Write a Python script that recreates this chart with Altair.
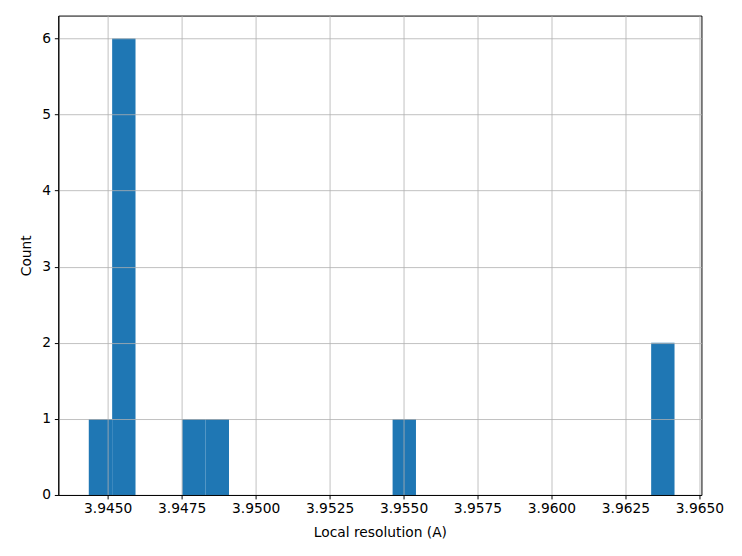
import altair as alt
import pandas as pd

# Histogram bins (Local resolution, Å): 25 equal bins
bin_left = [3.94436, 3.94515, 3.94752, 3.94831, 3.95463, 3.96337]
bin_right = [3.94515, 3.94594, 3.94831, 3.94910, 3.95542, 3.96416]
counts = [1, 6, 1, 1, 1, 2]

x_ticks = [3.9450, 3.9475, 3.9500, 3.9525, 3.9550, 3.9575, 3.9600, 3.9625, 3.9650]
y_ticks = [0, 1, 2, 3, 4, 5, 6]

df = pd.DataFrame({"left": bin_left, "right": bin_right, "count": counts})

FONT = "DejaVu Sans"

chart = (
    alt.Chart(df)
    .mark_rect(color="#1f77b4")
    .encode(
        x=alt.X(
            "left:Q",
            scale=alt.Scale(domain=[3.94333, 3.96507], nice=False, zero=False),
            axis=alt.Axis(
                title="Local resolution (A)",
                values=x_ticks,
                format=".4f",
                grid=True,
                zindex=1,
                titlePadding=10,
                labelPadding=3,
            ),
        ),
        x2="right:Q",
        y=alt.Y(
            "count:Q",
            scale=alt.Scale(domain=[0, 6.3], nice=False),
            axis=alt.Axis(title="Count", values=y_ticks, format="d", grid=True, zindex=1,
                          titlePadding=8, labelPadding=4),
        ),
        y2=alt.datum(0),
    )
    .properties(
        width=652,
        height=486,
        padding={"left": 12, "top": 4, "right": 10, "bottom": 0},
    )
    .configure_view(stroke="black", strokeWidth=1)
    .configure_axis(
        labelFont=FONT,
        titleFont=FONT,
        labelFontSize=14,
        titleFontSize=14,
        labelColor="black",
        titleColor="black",
        titleFontWeight="normal",
        gridColor="#b0b0b0",
        gridWidth=0.8,
        gridOpacity=1,
        domainColor="black",
        domainWidth=1,
        tickColor="black",
        tickSize=4,
        tickWidth=1,
    )
)

chart.save("out.html", embed_options={"renderer": "svg", "actions": False})
